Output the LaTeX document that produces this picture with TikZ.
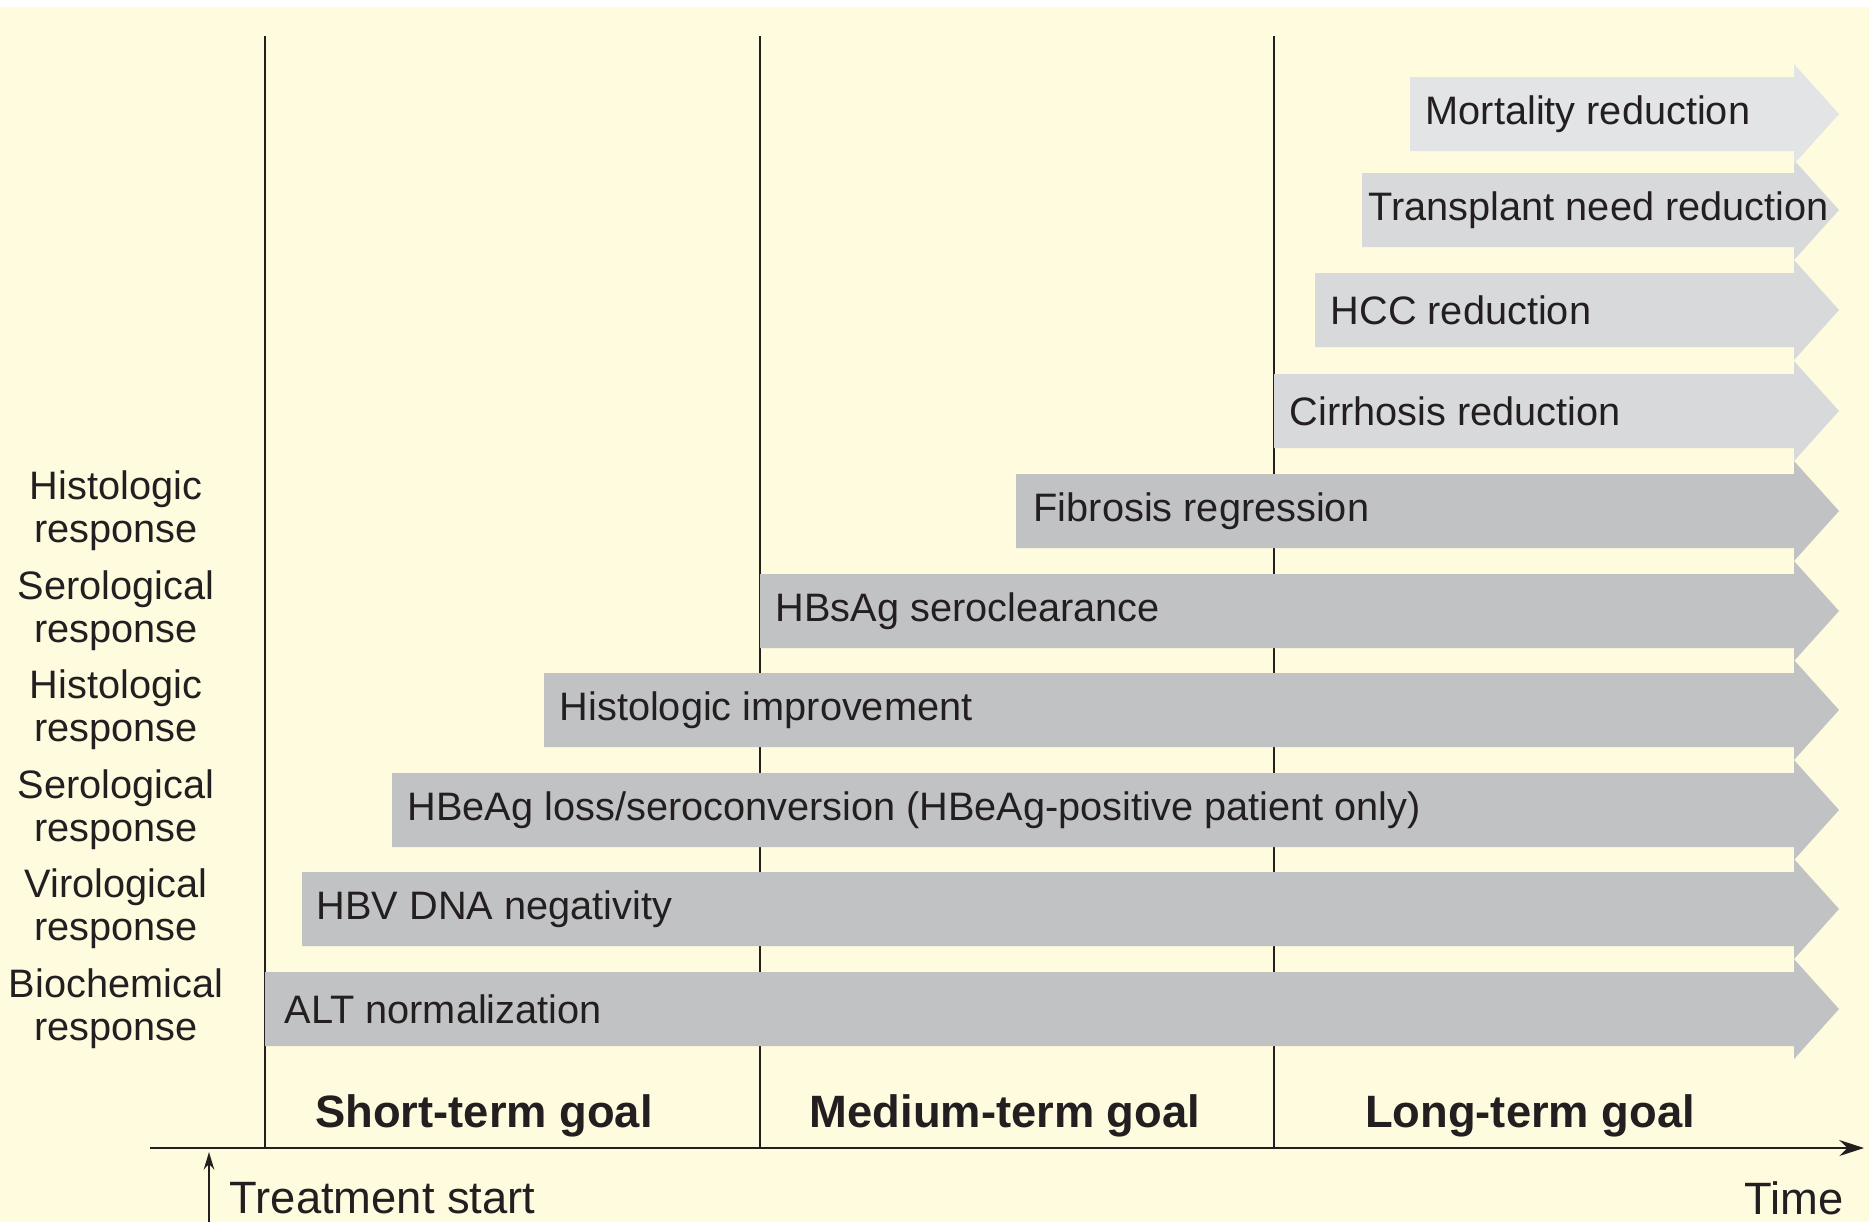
\documentclass[tikz,border=0pt]{standalone}
\usepackage{fontspec}
\setmainfont{Liberation Sans}
\usetikzlibrary{arrows.meta}
\definecolor{cream}{HTML}{FFFBDF}
\definecolor{bardark}{HTML}{C1C2C4}
\definecolor{barlight}{HTML}{D8D9DB}
\definecolor{barpale}{HTML}{E3E4E6}
\definecolor{ink}{HTML}{231F20}
\begin{document}
\begin{tikzpicture}[x=0.1mm,y=-0.1mm,text=ink]
                \tikzstyle{bartext}=[anchor=west,inner sep=0pt,font=\fontsize{11.3}{12.2}\selectfont]
                \tikzstyle{resp}=[align=center,inner sep=0pt,font=\fontsize{11.3}{12.2}\selectfont]
                \tikzstyle{goal}=[inner sep=0pt,font=\fontsize{12.9}{14}\selectfont\bfseries]
                \tikzstyle{axislabel}=[inner sep=0pt,font=\fontsize{12.9}{14}\selectfont]
                \useasboundingbox (0,0) rectangle (1869,1222);
                \fill[white] (0,0) rectangle (1869,1222);
                \fill[cream] (0,7) rectangle (1869,1222);

                % phase borders
                \foreach \name/\x in {start/265, mid/760, long/1274} {
                        \coordinate (L-\name-top) at (\x,36);
                        \coordinate (L-\name-bot) at (\x,1148);
                        \draw[line width=0.8pt,ink] (L-\name-top) -- (L-\name-bot);
                }

                % goal bars
                \foreach \name/\y/\xl/\dx/\col/\txt in {
                        alt/1009/265/19/bardark/{ALT normalization},
                        hbv/909/302/14/bardark/{HBV DNA negativity},
                        hbeag/810/392/15/bardark/{HBeAg loss/seroconversion (HBeAg-positive patient only)},
                        histo/710/544/15/bardark/{Histologic improvement},
                        hbsag/611/760/15/bardark/{HBsAg seroclearance},
                        fib/511/1016/17/bardark/{Fibrosis regression},
                        cirr/411/1274/15/barlight/{Cirrhosis reduction},
                        hcc/310/1315/15/barlight/{HCC reduction},
                        trans/210/1362/6/barlight/{Transplant need reduction},
                        mort/114/1410/15/barpale/{Mortality reduction}} {
                        \fill[\col] (\xl,\y-37) -- (1794,\y-37) -- (1794,\y-50) -- (1839,\y)
                                -- (1794,\y+50) -- (1794,\y+37) -- (\xl,\y+37) -- cycle;
                        \node[bartext] (B-\name) at (\xl+\dx,\y) {\txt};
                }

                % response labels
                \node[resp] (R-fib) at (116,511) {Histologic\\response};
                \node[resp] (R-hbsag) at (116,611) {Serological\\response};
                \node[resp] (R-histo) at (116,710) {Histologic\\response};
                \node[resp] (R-hbeag) at (116,810) {Serological\\response};
                \node[resp] (R-hbv) at (116,909) {Virological\\response};
                \node[resp] (R-alt) at (116,1009) {Biochemical\\response};

                \node[goal] (G-short) at (484,1116) {Short-term goal};
                \node[goal] (G-mid) at (1005,1116) {Medium-term goal};
                \node[goal] (G-long) at (1530,1116) {Long-term goal};

                % time axis
                \coordinate (T-0) at (150,1148);
                \coordinate (T-1) at (1864,1148);
                \draw[line width=0.8pt,ink,-{Stealth[length=7pt,width=4.5pt]}] (T-0) -- (T-1);
                \coordinate (S-0) at (209,1222);
                \coordinate (S-1) at (209,1152);
                \draw[line width=0.5pt,ink,-{Stealth[length=5pt,width=3pt]}] (S-0) -- (S-1);
                \node[axislabel,anchor=west] (treat) at (229,1198) {Treatment start};
                \node[axislabel,anchor=east] (time) at (1844,1198) {Time};
\end{tikzpicture}
\end{document}
